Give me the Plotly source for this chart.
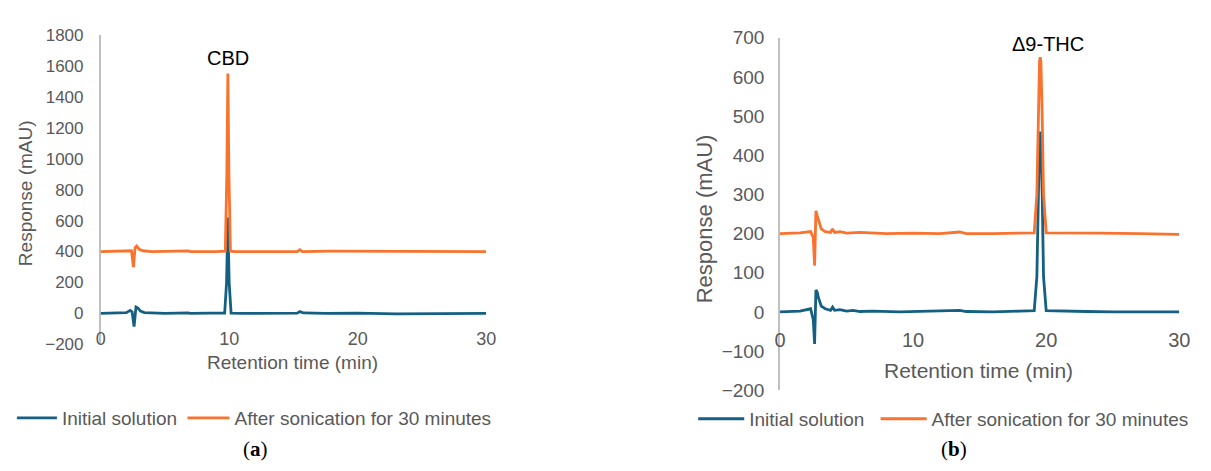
import plotly.graph_objects as go

# ---------------- data ----------------
series_names = ["Initial solution", "After sonication for 30 minutes"]
series_colors = ["#156082", "#F9722E"]

# Panel (a): CBD
a_time_initial = [0, 1.0, 2.0, 2.3, 2.45, 2.6, 2.75, 2.9, 3.1, 3.4, 3.9, 5.0, 6.8, 7.0, 8.5,
                  9.65, 9.8, 9.9, 10.0, 10.15, 11.0, 13.0, 15.3, 15.5, 15.8, 17.5, 20.0, 23.0,
                  26.0, 28.0, 30.0]
a_resp_initial = [0, 2, 5, 20, 10, -85, 42, 35, 15, 5, 2, 0, 3, 0, 2,
                  2, 200, 620, 200, 2, 0, 0, 2, 12, 3, 0, 2, -3,
                  0, 1, 0]
a_time_sonic = [0, 1.0, 2.0, 2.4, 2.55, 2.68, 2.8, 3.0, 3.3, 4.0, 6.8, 7.0, 9.0,
                9.7, 9.82, 9.9, 9.98, 10.1, 10.5, 13.0, 15.3, 15.5, 15.7, 18.0, 22.0,
                26.0, 30.0]
a_resp_sonic = [400, 402, 400, 405, 300, 425, 435, 415, 405, 400, 404, 400, 400,
                402, 900, 1550, 900, 402, 400, 400, 400, 412, 400, 403, 402,
                400, 400]

# Panel (b): delta-9-THC
b_time_initial = [0, 1.5, 2.3, 2.5, 2.6, 2.7, 2.8, 2.9, 3.1, 3.4, 3.8, 3.95, 4.1, 4.5,
                  5.0, 5.5, 6.0, 7.0, 9.0, 11.0, 13.5, 14.0, 16.0, 18.0,
                  19.1, 19.3, 19.4, 19.5, 19.55, 19.6, 19.7, 19.8, 20.0,
                  21.0, 23.0, 25.0, 27.0, 30.0]
b_resp_initial = [0, 2, 8, -20, -82, 56, 50, 35, 15, 8, 4, 12, 4, 6,
                  2, 4, 1, 2, 0, 2, 4, 1, 0, 2,
                  3, 90, 300, 450, 460, 440, 300, 90, 3,
                  2, 1, 0, 0, 0]
b_time_sonic = [0, 1.5, 2.3, 2.5, 2.6, 2.7, 2.8, 2.95, 3.1, 3.4, 3.8, 3.95, 4.1, 4.5,
                5.0, 6.0, 8.0, 10.0, 12.0, 13.5, 14.0, 16.0, 18.0,
                19.1, 19.3, 19.4, 19.5, 19.55, 19.6, 19.7, 19.8, 20.0,
                21.0, 24.0, 27.0, 30.0]
b_resp_sonic = [200, 202, 205, 190, 118, 258, 245, 230, 212, 205, 203, 212, 203, 205,
                201, 203, 200, 201, 200, 204, 200, 200, 201,
                202, 300, 500, 640, 650, 640, 500, 300, 202,
                202, 201, 200, 198]

x_ticks = [0, 10, 20, 30]
a_y_ticks = [-200, 0, 200, 400, 600, 800, 1000, 1200, 1400, 1600, 1800]
b_y_ticks = [-200, -100, 0, 100, 200, 300, 400, 500, 600, 700]

peak_labels = ["CBD", "\u03949-THC"]
panel_labels = ["(<b>a</b>)", "(<b>b</b>)"]
x_title = "Retention time (min)"
y_title = "Response (mAU)"

# ---------------- figure ----------------
W, H = 1211, 471
def px(x):
    return x / W
def py(y):
    return 1 - y / H

GRAY = "#595959"
SANS = "Liberation Sans, Arial, sans-serif"

fig = go.Figure()

panels = [
    ("x", "y", ("legend", "legend2"), a_time_initial, a_resp_initial, a_time_sonic, a_resp_sonic),
    ("x2", "y2", ("legend3", "legend4"), b_time_initial, b_resp_initial, b_time_sonic, b_resp_sonic),
]
for xa, ya, lgs, t1, r1, t2, r2 in panels:
    fig.add_trace(go.Scatter(x=t1, y=r1, mode="lines", name=series_names[0],
                             line=dict(color=series_colors[0], width=2.8),
                             xaxis=xa, yaxis=ya, legend=lgs[0]))
    fig.add_trace(go.Scatter(x=t2, y=r2, mode="lines", name=series_names[1],
                             line=dict(color=series_colors[1], width=2.8),
                             xaxis=xa, yaxis=ya, legend=lgs[1]))

common_x = dict(range=[0, 30], tickvals=x_ticks, showgrid=False, zeroline=False,
                showline=False, ticks="", anchor="free", layer="below traces")
common_y = dict(showgrid=False, zeroline=False, showline=True, linecolor="#BFBFBF",
                linewidth=1.5, ticks="", layer="below traces")

def leg(x_px, y_px, iw):
    return dict(orientation="h", x=px(x_px), xanchor="left", y=py(y_px), yanchor="middle",
                font=dict(family=SANS, size=19, color=GRAY), bgcolor="rgba(0,0,0,0)",
                itemwidth=iw, borderwidth=0)

fig.update_layout(
    width=W, height=H, autosize=False,
    margin=dict(l=0, r=0, t=0, b=0, pad=0),
    paper_bgcolor="white", plot_bgcolor="white",
    xaxis=dict(**common_x, domain=[px(96), px(487)], position=py(318),
               tickfont=dict(family=SANS, size=18, color=GRAY), ticklabelstandoff=12),
    yaxis=dict(**common_y, domain=[py(350), py(26)], range=[-200, 1800], anchor="x",
               tickvals=a_y_ticks, tickfont=dict(family=SANS, size=17, color=GRAY),
               ticklabelstandoff=12),
    xaxis2=dict(**common_x, domain=[px(785), px(1190)], position=py(316),
                tickfont=dict(family=SANS, size=20, color=GRAY), ticklabelstandoff=14),
    yaxis2=dict(**common_y, domain=[py(398), py(29)], range=[-200, 700], anchor="x2",
                tickvals=b_y_ticks, tickfont=dict(family=SANS, size=19, color=GRAY),
                ticklabelstandoff=10),
    legend=leg(6, 427, 40),
    legend2=leg(179, 427, 42),
    legend3=leg(697, 428, 46),
    legend4=leg(882, 428, 46),
    showlegend=True,
)

def ann(x, y, text, size, color=GRAY, family=SANS, xref="paper", yref="paper", angle=0):
    return dict(x=x, y=y, xref=xref, yref=yref, text=text, showarrow=False,
                xanchor="center", yanchor="middle", textangle=angle,
                font=dict(family=family, size=size, color=color))

annotations = [
    ann(9.9, 1650, peak_labels[0], 20, "black", xref="x", yref="y"),
    ann(20.1, 685, peak_labels[1], 20, "black", xref="x2", yref="y2"),
    ann(px(291), py(369), x_title, 19),
    ann(px(986), py(377), x_title, 21),
    ann(px(20), py(192), y_title, 19, angle=-90),
    ann(px(708), py(219), y_title, 22, angle=-90),
    ann(px(253), py(460), panel_labels[0], 21, "black", "Liberation Serif, serif"),
    ann(px(961), py(460), panel_labels[1], 21, "black", "Liberation Serif, serif"),
]
fig.update_layout(annotations=annotations)

fig.write_html(
    "out.html",
    config={"displayModeBar": False, "responsive": False},
    post_script=("document.documentElement.style.overflow='hidden';"
                 "document.body.style.margin='0';"
                 "document.body.style.overflow='hidden';"),
)
